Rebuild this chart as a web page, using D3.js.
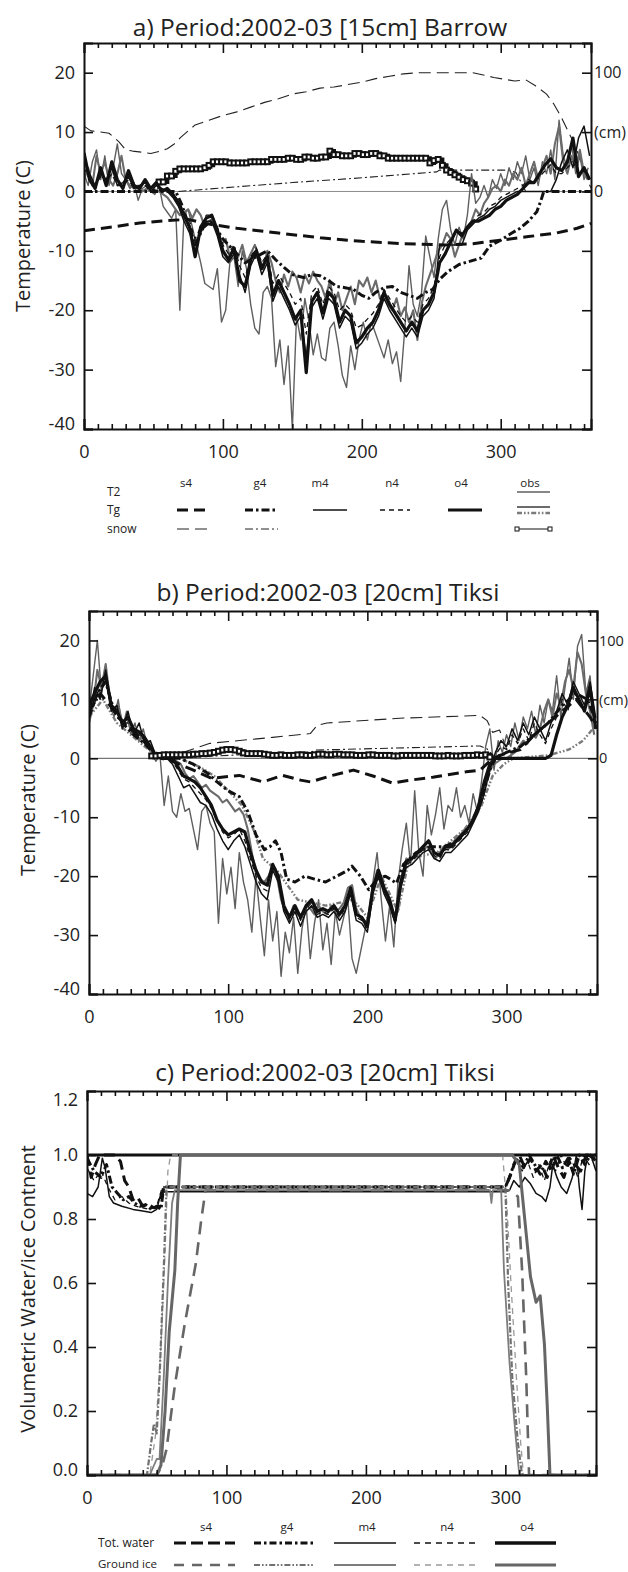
<!DOCTYPE html>
<html>
<head>
<meta charset="utf-8">
<script src="https://cdn.jsdelivr.net/npm/d3@7"></script>
<style>
  body { margin: 0; background: #fff; }
  svg { display: block; }
  text { font-family: "Open Sans", "DejaVu Sans", sans-serif; fill: #222; }
  .axis path { stroke: #111; stroke-width: 2; fill: none; }
  .axis line { stroke: #111; stroke-width: 1.6; }
  .axis text { font-size: 18px; }
  .title { font-size: 24.5px; }
  .ylab { font-size: 20px; }
  .leg { font-size: 11.5px; }
</style>
</head>
<body>
<svg id="chart" width="628" height="1572"></svg>
<script>
// ---------------- tick labels ----------------
const xMajorTicks = [0, 100, 200, 300];
const tempTicks = [-40, -30, -20, -10, 0, 10, 20];
const waterTicks = [0, 0.2, 0.4, 0.6, 0.8, 1.0, 1.2];
const snowTickLabels = { 0: "0", 10: "(cm)", 20: "100" };
const modelNames = ["s4", "g4", "m4", "n4", "o4"];

// ---------------- a) Barrow, 15 cm (°C) ----------------
// observed 2 m air temperature, every 3 days
const barrowT2obs = [
  3, 1, 5, 7, 2, 6, 1, 4, 8, 3,
  2, 0.5, 1.5, -1.5, 0.5, 1, 0, -0.5, 1, -2.5,
  -3.5, -4.5, -3, -20, -4, -3, -6, -9, -12, -15.5,
  -16, -16.5, -13, -22, -20, -12, -11, -16, -10, -13,
  -19, -23, -24, -17, -16, -18, -29.5, -25, -32.5, -26,
  -40, -21, -25, -18, -22, -27.5, -24, -28, -28.5, -23,
  -22, -26, -31, -33, -26, -30, -25, -22, -25, -22,
  -24, -26, -28, -25, -29, -27, -32, -23, -12.5, -19,
  -21, -17, -7.5, -11, -14.5, -8, -3, -1.5, -6.5, -9,
  -6, -8, -4, 3, -2, -1, 1, -1, 2, 0.5,
  3, 1, 4, 2, 5, 3, 6, 2, 4, 1,
  5, 3, 7, 2, 12, 6, 4, 8, 3, 6,
  2, 4
];
// observed ground temperature, every 3 days
const barrowTgObs = [
  2, 4, 1, 6, 3, 5, 2, 1, 3, 6,
  2, 1, 0.5, 1, 0, 0.5, 0, 0.2, 0, -0.5,
  -1, -2, -3, -4, -3.5, -3, -4.5, -3, -4, -6,
  -5, -4.5, -7, -9, -8, -11, -9.5, -11, -9, -12,
  -10.5, -9, -11, -13, -10, -12, -15, -17, -14, -16,
  -13.5, -14.5, -17, -14, -15.5, -13.5, -15, -16, -18, -15,
  -19, -17, -20, -18, -16, -19, -15, -16, -14.5, -17,
  -15, -18, -17, -19, -20, -18, -21, -19.5, -22, -20,
  -25, -19, -16, -14, -12, -10, -9, -7, -8, -11,
  -9, -7, -6, -5, -3, -4, -2, -1, 0.5, 1,
  0, 2, 1, 3, 2, 4, 1, 3, 5, 2,
  4, 6, 3, 8, 11, 5, 3, 6, 4, 7,
  3, 2
];
// modelled ground temperature, every 4 days
const barrowTgO4 = [
  6.5, 2, 0.5, 4, 1, 5, 2, 0.5, 3.5, 1,
  0.5, 2, 0.5, 1.5, 0, 0.5, -0.5, -2, -4, -6,
  -11, -6, -4.5, -4, -6.5, -10, -11.5, -9.5, -15, -16,
  -11.5, -10, -13, -11, -17.5, -15, -17, -19, -21.5, -20,
  -30.5, -18.5, -17, -20.5, -17, -18, -22, -20, -21, -25.5,
  -24.5, -23, -22, -20, -17, -19, -20.5, -22, -23.5, -22,
  -23.5, -20, -19, -17, -12, -10.5, -8.5, -6.5, -7.5, -6,
  -5, -5, -4.5, -4, -3, -2.5, -1.5, -1, -0.5, 0.5,
  1.5, 1.5, 3, 4.5, 5.5, 4, 3.5, 5, 9, 2.5,
  4, 2
];
const barrowTgM4 = [
  5, 3, 1, 3, 2, 4, 1, 1.5, 2.5, 0.5,
  1, 1.5, 0, 1, 0.5, 0, -1, -2.5, -5, -7,
  -9, -7, -5, -5, -7.5, -11, -12, -10.5, -14, -17,
  -12.5, -10.5, -14, -12, -18.5, -16, -18, -20, -22.5, -21,
  -28, -19.5, -18, -21.5, -18, -19, -23, -21, -22, -26.5,
  -25.5, -24, -23, -21, -18, -20, -21.5, -23, -24.5, -23,
  -24.5, -21, -20, -18, -9, -9, -9, -9, -9, -6.5,
  -5.5, -4.5, -4, -3, -2.5, -1.5, -1, -0.5, 0, 0,
  0, 0, 0, 0, 0, 2, 5, 7, 4, 9,
  11, 6
];
const barrowTgN4 = [
  4, 2, 1, 2.5, 1.5, 3, 1, 1, 2, 0.5,
  0.5, 1, 0, 0.5, 0, 0, -0.5, -1.5, -3.5, -5,
  -8, -6, -4, -4, -6, -9, -10.5, -9, -12.5, -14.5,
  -11, -9.5, -12, -10.5, -15.5, -14, -15.5, -17, -19, -18,
  -24, -17, -16, -19, -16, -17, -20, -19, -20, -23,
  -22.5, -21.5, -20.5, -19, -16.5, -18, -19.5, -21, -22, -21,
  -22, -19, -18, -16, -11, -9, -8, -6.5, -7, -6,
  -5, -4, -3.5, -2.5, -2, -1, -0.5, 0, 0.5, 1,
  2, 1.5, 2.5, 3.5, 4.5, 3, 3, 4, 5, 3,
  3.5, 2
];
// smoother model curves: [day, value]
const barrowTgS4 = [[0,-6.6],[20,-6.0],[40,-5.3],[60,-4.9],[75,-4.7],[90,-5.5],[110,-6.2],[140,-7.0],[170,-7.8],[200,-8.4],[230,-8.8],[260,-9.0],[280,-8.8],[300,-8.2],[320,-7.6],[340,-7.0],[355,-6.2],[365,-5.4]];
const barrowTgG4 = [[0,0],[66,0],[70,-2],[76,-6],[80,-9],[86,-6],[92,-5],[100,-8],[108,-10],[116,-12],[124,-11],[132,-10],[138,-11.5],[144,-12.8],[150,-14],[158,-14.5],[164,-14],[170,-14.2],[176,-15],[182,-16],[188,-16.2],[194,-16.5],[200,-17.5],[205,-18],[210,-17],[216,-16.2],[222,-16],[228,-17],[234,-17.5],[240,-18],[246,-17],[251,-16.5],[256,-14.8],[262,-13.5],[270,-12.3],[280,-11.6],[286,-11.2],[292,-9.2],[300,-8.2],[308,-7],[314,-6.2],[320,-5],[326,-3.4],[329,-1.5],[331,0],[365,0]];
// snow depth (cm)
const barrowSnowS4 = [[0,55],[5,51],[12,50],[18,49],[25,42],[30,35],[35,34],[42,33],[48,32],[55,34],[60,36],[65,40],[70,46],[75,51],[80,56],[90,60],[100,64],[110,67],[120,71],[130,75],[140,78],[150,82],[160,84],[170,87],[180,88],[190,90],[200,92],[210,95],[220,97],[230,99],[240,100],[280,100],[295,96],[310,93],[318,94],[325,89],[333,82],[338,74],[343,64],[348,52],[353,40],[358,25],[362,10],[365,3]];
const barrowSnowG4 = [[68,0],[100,3],[150,7.5],[200,11.5],[254,16.5],[256,18],[305,18],[311,16],[318,0]];
const barrowSnowObsStart = 54;   // observed snow depth every 3 days from this day
const barrowSnowObs = [
  8, 8, 13, 13, 17, 19, 19, 19, 19, 19,
  19, 20, 22, 25, 25, 25, 25, 24, 24, 24,
  24, 24, 25, 25, 25, 25, 25, 27, 27, 27,
  27, 28, 28, 27, 27, 29, 29, 28, 28, 29,
  29, 34, 31, 31, 30, 30, 30, 32, 32, 31,
  31, 32, 32, 30, 30, 28, 28, 28, 28, 28,
  28, 28, 28, 28, 28, 24, 26, 27, 22, 18,
  16, 14, 12, 10, 9, 7, 2
];

// ---------------- b) Tiksi, 20 cm (°C) ----------------
const tiksiT2obs = [
  8, 14, 20, 11, 15, 9, 7, 10, 5, 8,
  4, 6, 3, 5, 2, 1, -0.5, 0.5, -8, -3,
  -9, -10, -6, -9, -8.5, -12, -15.5, -9, -8, -11,
  -12.5, -28, -17, -23, -18.5, -25.5, -16, -21, -24, -29.5,
  -20, -27, -33.5, -24, -31, -26, -37, -29.5, -33, -27,
  -36.5, -29, -25, -34, -28, -24, -32.5, -28, -35, -26,
  -30, -27, -24, -34, -36.5, -33, -29.5, -26, -21, -16,
  -24, -31, -25, -32, -21, -15.5, -11, -18, -5.5, -16,
  -20, -8, -13, -9.5, -5, -12, -8, -9, -5, -10,
  -8, -11, -6, -9, -4, 2, 5, -2, 3, 1,
  4, 2, 6, 3, 7, 5, 8, 4, 9, 6,
  10, 8, 14, 7, 12, 17, 10, 19, 21, 11,
  14, 6
];
const tiksiTgObs = [
  6, 9, 15, 12, 16, 10, 8, 9, 6, 7,
  5, 5, 3, 4, 2, 1, 0.5, 0, 0, 0,
  0, -0.5, -1, -2.5, -3.5, -3, -4, -5, -4.5, -5.5,
  -6, -6.5, -7.5, -7, -8, -9, -8.5, -9.5, -12, -16,
  -19.5, -20.5, -21, -20, -18.5, -20, -24, -26, -27, -25,
  -26.5, -27, -25, -25.5, -26.5, -25, -26, -26.5, -25, -26,
  -25.5, -24.5, -22, -21.5, -25.5, -27, -28, -27, -22, -19,
  -20, -23, -25, -27, -26, -20, -17, -17.5, -16.5, -16,
  -15.5, -15, -16, -17, -16, -15, -15.5, -14.5, -13.5, -13,
  -12, -11.5, -10, -8.5, -6.5, -4, -2, -1, -0.5, 0,
  0, 0.5, 1, 2, 3, 2.5, 4, 3.5, 5, 8,
  10, 7, 11, 9, 13, 15, 12, 18, 16, 11,
  8, 4
];
const tiksiTgObs2 = [[0,7],[10,10],[20,6],[30,4],[40,2],[50,0.3],[65,0],[80,-1.5],[90,-3],[100,-5.5],[110,-8],[118,-12],[125,-17],[135,-19],[150,-24],[170,-25],[190,-24],[200,-27],[210,-20],[222,-26],[230,-17],[250,-16],[270,-12],[282,-8],[290,-3],[298,-1],[305,0],[330,0.5],[345,1.5],[355,3],[362,5],[365,6]];
const tiksiTgO4 = [
  9, 11, 13, 14, 9, 8, 6, 7, 5, 4.5,
  3.5, 2, 0.5, 0, 0, 0, -1.5, -3, -3.5, -4,
  -5, -6.5, -8, -10.5, -12, -13, -12.5, -12, -12.5, -16,
  -19, -21, -21.5, -18, -20, -25, -27, -25, -27, -25,
  -24, -26, -25.5, -26, -25, -26.5, -25, -22, -26.5, -27,
  -28.5, -22, -19, -22, -24, -27.5, -21, -17.5, -17, -16,
  -15, -14, -16, -16.5, -15, -15, -14, -13, -12, -10.5,
  -8, -4, -1, 0, 0, 0, 0, 0, 0, 0,
  0, 0, 0, 0.5, 4, 7, 9, 12, 10, 8,
  12, 5
];
const tiksiTgM4 = [
  7, 12, 10, 15, 8, 9, 5, 8, 4, 6,
  2.5, 3, 0.5, 0, 0, -1, -3, -5, -4.5, -6,
  -7.5, -8, -9.5, -12, -14, -15.5, -14, -13, -15, -18,
  -21, -23, -24, -19, -21, -26, -28, -26, -28.5, -26,
  -25, -27, -26.5, -27, -26, -27.5, -26, -23, -27.5, -28,
  -29.5, -23, -20, -23, -25, -28, -22, -18.5, -18, -17,
  -16, -15.5, -17, -17.5, -16, -16, -15, -14, -13, -11,
  -9, -6, -2, 1, 3, 2, 5, 3, 6, 4,
  7, 5, 3, 6, 8, 11, 9, 13, 11, 9,
  13, 7
];
const tiksiTgN4 = [
  8, 10, 12, 13, 9, 7, 6, 6, 4, 4,
  3, 2, 0.5, 0, 0, -0.5, -2, -3.5, -4, -5,
  -6, -7, -8.5, -10.5, -12.5, -13.5, -13, -12, -14, -17,
  -20, -22, -22.5, -18.5, -20.5, -25.5, -27.5, -25.5, -27.5, -25.5,
  -24.5, -26.5, -26, -26.5, -25.5, -27, -25.5, -22.5, -27, -27.5,
  -29, -22.5, -19.5, -22.5, -24.5, -27.5, -21.5, -18, -17.5, -16.5,
  -15.5, -15, -16.5, -17, -15.5, -15.5, -14.5, -13.5, -12.5, -10.5,
  -8.5, -5, -1.5, 0.5, 2, 1.5, 4, 2.5, 5, 3,
  6, 4, 2.5, 5, 7, 10, 8, 12, 10, 8,
  12, 6
];
const tiksiTgS4 = [[0,8],[8,11],[15,9],[25,6],[35,4],[45,1.5],[52,0],[60,-0.5],[75,-2],[88,-3.4],[108,-2.9],[125,-4],[139,-2.9],[152,-3.7],[159,-4],[175,-2.9],[190,-2],[204,-3],[218,-4.2],[228,-3.8],[247,-3.2],[271,-2.3],[281,-2],[288,-0.5],[295,0.5],[310,1.5],[320,4],[330,6],[340,8],[350,10],[360,7],[365,5]];
const tiksiTgG4 = [[0,7],[6,11],[12,13],[18,8],[24,6],[32,4],[40,2.5],[48,0.5],[55,0],[65,0],[75,-1],[85,-2.5],[92,-4],[100,-5.5],[108,-6.5],[114,-9],[120,-13],[126,-15.5],[130,-15],[134,-14],[138,-16],[142,-20.5],[148,-21],[155,-20],[162,-20.5],[170,-21],[178,-20],[186,-19],[189,-18.3],[195,-20],[201,-22.3],[207,-20.5],[213,-20],[221,-21.2],[226,-18],[235,-16],[245,-15],[255,-15],[265,-14],[275,-11],[282,-7],[288,-2],[292,0],[300,1],[310,2],[320,4],[330,6],[340,9],[350,11],[358,10],[365,6]];
const tiksiSnowS4 = [[55,0],[70,6],[87,12.7],[132,17.8],[159,21],[164,28],[171,30],[223,34],[281,36.4],[286,32],[290,22],[295,24],[300,8],[304,0]];
const tiksiSnowG4 = [[60,0],[100,2.5],[160,5.5],[163,7],[281,10.5],[286,8],[292,0]];
const tiksiSnowObsStart = 45;
const tiksiSnowObs = [
  2, 2, 2.5, 3, 3, 3, 3, 3, 3, 3,
  3.5, 3.5, 4, 4, 4.5, 5, 6, 7, 7.5, 7.5,
  7, 6, 4.5, 4, 4, 4, 4, 3.5, 3, 2.5,
  2.5, 3, 2.5, 2.5, 2.5, 3, 3, 2.5, 2.5, 3,
  3.5, 3.5, 3, 3, 3.5, 3.5, 3, 3, 3, 2.5,
  2.5, 2.5, 3, 3, 2.5, 2.5, 2.5, 2.5, 2, 2,
  2.5, 2.5, 2.5, 2.5, 2.5, 2.5, 2.5, 2.5, 2, 2,
  2, 2.5, 2, 2, 2, 2.5, 2.5, 2.5, 3, 2.5,
  3, 1
];

// ---------------- c) Tiksi, 20 cm volumetric content ----------------
const waterS4 = [[0,1.0],[3,0.93],[6,0.97],[9,1.0],[20,1.0],[24,0.98],[27,0.92],[30,0.9],[33,0.86],[36,0.87],[40,0.84],[44,0.845],[48,0.835],[52,0.84],[55,0.9],[300,0.9],[304,0.94],[307,0.98],[310,1.0],[314,0.96],[318,0.99],[322,0.95],[326,0.97],[330,0.93],[334,1.0],[338,0.96],[342,0.93],[346,0.99],[350,0.97],[354,0.95],[358,1.0],[365,1.0]];
const waterG4 = [[0,0.99],[5,0.95],[10,0.93],[14,0.97],[18,0.9],[22,0.88],[26,0.86],[30,0.87],[34,0.85],[38,0.84],[42,0.845],[46,0.83],[50,0.84],[53,0.83],[55,0.9],[300,0.9],[303,0.93],[306,0.97],[309,0.99],[313,0.96],[317,1.0],[321,0.97],[325,0.94],[329,0.98],[333,0.95],[337,1.0],[341,0.96],[345,0.99],[349,0.94],[353,1.0],[357,0.97],[361,1.0],[365,0.98]];
const waterM4 = [[0,0.88],[4,0.87],[8,0.9],[11,0.99],[13,0.96],[16,0.87],[19,0.85],[25,0.84],[33,0.83],[40,0.825],[46,0.82],[50,0.83],[53,0.88],[56,0.885],[300,0.885],[303,0.89],[306,0.92],[310,0.9],[314,0.93],[318,0.91],[322,0.88],[326,0.87],[329,0.855],[332,0.9],[334,0.97],[337,0.93],[340,0.9],[344,0.88],[348,0.93],[351,1.0],[353,0.9],[355,0.83],[357,0.95],[359,1.0],[362,0.99],[365,0.95]];
const waterN4 = [[0,0.96],[5,0.92],[10,0.95],[15,0.9],[20,0.86],[25,0.87],[30,0.85],[35,0.84],[40,0.835],[45,0.83],[50,0.84],[54,0.9],[300,0.9],[304,0.95],[308,0.98],[312,0.95],[316,0.98],[320,0.93],[324,0.97],[328,0.92],[332,0.98],[336,0.95],[340,1.0],[344,0.96],[348,0.98],[352,0.93],[356,1.0],[360,0.97],[365,1.0]];
const waterO4 = [[0,1.0],[365,1.0]];
const iceS4 = [[0,0],[50,0],[54,0.03],[57,0.08],[63,0.28],[70,0.47],[78,0.66],[82,0.8],[85,0.89],[303,0.89],[309,0.87],[312,0.64],[315,0.3],[317,0],[365,0]];
const iceG4 = [[0,0],[43,0],[46,0.1],[48,0.16],[50,0.13],[52,0.3],[55,0.64],[57,0.9],[300,0.9],[302,0.6],[305,0.3],[309,0.1],[312,0],[365,0]];
const iceM4 = [[0,0],[45,0],[50,0.05],[52,0.05],[55,0.3],[58,0.6],[61,0.85],[63,0.89],[289,0.89],[290,0.85],[291,0.89],[297,0.89],[299,0.64],[303,0.35],[307,0.14],[310,0],[365,0]];
const iceN4 = [[0,0],[45,0],[49,0.12],[53,0.4],[56,0.7],[58,0.95],[60,1.0],[298,1.0],[301,0.85],[304,0.6],[308,0.3],[311,0.1],[313,0],[365,0]];
const iceO4 = [[0,0],[50,0],[53,0.03],[56,0.2],[59,0.45],[63,0.64],[65,0.85],[67,1.0],[305,1.0],[310,0.97],[318,0.62],[322,0.54],[325,0.56],[328,0.41],[330,0.22],[332,0],[365,0]];

// ---------------- drawing ----------------
const svg = d3.select("#chart");
const defs = svg.append("defs");

const sty = {
  t2obs:  { stroke: "#5f5f5f", width: 1.4 },
  tgobs:  { stroke: "#6b6b6b", width: 2.1 },
  tgobs2: { stroke: "#7a7a7a", width: 2.4, dash: "5,2,1.6,2,1.6,2" },
  s4:     { stroke: "#111", width: 3, dash: "11,6" },
  g4:     { stroke: "#111", width: 3, dash: "8,3,2.5,3" },
  m4:     { stroke: "#111", width: 1.5 },
  n4:     { stroke: "#111", width: 1.3, dash: "5,4" },
  o4:     { stroke: "#111", width: 3.2 },
  snowS4: { stroke: "#222", width: 1.1, dash: "12,6" },
  snowG4: { stroke: "#222", width: 1.1, dash: "8,3,2,3" },
  snowObs:{ stroke: "#111", width: 1.6 },
  iceS4:  { stroke: "#666", width: 2.6, dash: "13,8" },
  iceG4:  { stroke: "#707070", width: 2.2, dash: "6,2,1.6,2" },
  iceM4:  { stroke: "#7d7d7d", width: 1.8 },
  iceN4:  { stroke: "#999", width: 1.3, dash: "6,5" },
  iceO4:  { stroke: "#666", width: 3 }
};

const xMinorTicks = d3.range(10, 365, 10).filter(d => d % 100 !== 0);
const plainInt = d => String(d);            // ASCII hyphen for negatives
const oneDecimal = d => d.toFixed(1);

function makePanel(id, box, yDomain) {
  const x = d3.scaleLinear().domain([0, 365]).range([box.left, box.right]);
  const y = d3.scaleLinear().domain(yDomain).range([box.bottom, box.top]);
  defs.append("clipPath").attr("id", "clip" + id).append("rect")
    .attr("x", box.left).attr("y", box.top)
    .attr("width", box.right - box.left).attr("height", box.bottom - box.top);
  const g = svg.append("g");
  const plot = g.append("g").attr("clip-path", `url(#clip${id})`);
  return { x, y, g, plot, box };
}

function pairs(values, step, start = 0) {
  return values.map((v, i) => [start + i * step, v]);
}

function drawLine(p, data, st, yScale) {
  const ys = yScale || p.y;
  const line = d3.line().x(d => p.x(d[0])).y(d => ys(d[1]));
  p.plot.append("path").datum(data).attr("d", line)
    .attr("fill", "none").attr("stroke", st.stroke).attr("stroke-width", st.width)
    .attr("stroke-dasharray", st.dash || null)
    .attr("stroke-linejoin", "round");
}

// observed snow depth: stepped line carrying a square marker on every sample
function drawSnowObs(p, data, snowY) {
  const line = d3.line().x(d => p.x(d[0])).y(d => snowY(d[1])).curve(d3.curveStepAfter);
  p.plot.append("path").datum(data).attr("d", line)
    .attr("fill", "none").attr("stroke", "#111").attr("stroke-width", 4);
  p.plot.selectAll(null).data(data).enter().append("rect")
    .attr("x", d => p.x(d[0]) - 2.4).attr("y", d => snowY(d[1]) - 2.4)
    .attr("width", 4.8).attr("height", 4.8)
    .attr("fill", "#fff").attr("stroke", "#111").attr("stroke-width", 2);
}

function drawAxes(p, cfg) {
  const { x, y, g, box } = p;
  const add = (axis, tx, ty) => g.append("g").attr("class", "axis")
    .attr("transform", `translate(${tx},${ty})`).call(axis);
  const minorB = add(d3.axisBottom(x).tickValues(xMinorTicks).tickSize(-5).tickFormat(""), 0, box.bottom);
  const minorT = add(d3.axisTop(x).tickValues(xMinorTicks).tickSize(-5).tickFormat(""), 0, box.top);
  minorB.select(".domain").remove();
  minorT.select(".domain").remove();
  add(d3.axisTop(x).tickValues(xMajorTicks).tickSize(-10).tickFormat(""), 0, box.top);
  add(d3.axisBottom(x).tickValues(xMajorTicks).tickSize(-10).tickPadding(16).tickFormat(plainInt), 0, box.bottom);
  const yl = add(d3.axisLeft(y).tickValues(cfg.yTicks).tickSize(-9).tickPadding(9).tickFormat(cfg.yFormat), box.left, 0);
  const yr = add(d3.axisRight(y).tickValues(cfg.yTicks).tickSize(-9).tickPadding(cfg.rightPad || 3)
    .tickFormat(cfg.rightFormat || (() => "")), box.right, 0);
  yr.selectAll("text").style("font-size", cfg.rightFont || "16px");
  // lowest label sits slightly above its tick, top label (if any) slightly below
  const ext = d3.extent(cfg.yTicks);
  yl.selectAll(".tick text").filter(d => d === ext[0]).attr("dy", "0em");
  if (cfg.labelTop) yl.selectAll(".tick text").filter(d => d === ext[1]).attr("dy", "0.82em");
}

function title(txt, cx, cy) {
  svg.append("text").attr("class", "title").attr("x", cx).attr("y", cy)
    .attr("text-anchor", "middle").text(txt);
}
function yLabel(txt, cx, cy) {
  svg.append("text").attr("class", "ylab")
    .attr("transform", `translate(${cx},${cy}) rotate(-90)`)
    .attr("text-anchor", "middle").attr("dominant-baseline", "central").text(txt);
}
function legLine(g, x0, x1, yy, st) {
  g.append("line").attr("x1", x0).attr("x2", x1).attr("y1", yy).attr("y2", yy)
    .attr("stroke", st.stroke).attr("stroke-width", st.width).attr("stroke-dasharray", st.dash || null);
}

// ---- panel a ----
const pa = makePanel("A", { left: 84, right: 591, top: 43, bottom: 429 }, [-40, 25]);
const snowYa = d3.scaleLinear().domain([0, 100]).range([pa.y(0), pa.y(20)]);
pa.plot.append("line").attr("x1", pa.box.left).attr("x2", pa.box.right)
  .attr("y1", pa.y(0)).attr("y2", pa.y(0)).attr("stroke", "#8a8a8a").attr("stroke-width", 1);
drawLine(pa, barrowSnowS4, sty.snowS4, snowYa);
drawLine(pa, barrowSnowG4, sty.snowG4, snowYa);
drawSnowObs(pa, pairs(barrowSnowObs, 3, barrowSnowObsStart), snowYa);
drawLine(pa, pairs(barrowT2obs, 3), sty.t2obs);
drawLine(pa, pairs(barrowTgObs, 3), sty.tgobs);
drawLine(pa, barrowTgS4, sty.s4);
drawLine(pa, barrowTgG4, sty.g4);
drawLine(pa, pairs(barrowTgN4, 4), sty.n4);
drawLine(pa, pairs(barrowTgM4, 4), sty.m4);
drawLine(pa, pairs(barrowTgO4, 4), sty.o4);
drawAxes(pa, { yTicks: tempTicks, yFormat: plainInt, rightFormat: d => snowTickLabels[d] || "" });
title("a) Period:2002-03 [15cm] Barrow", 320, 36);
yLabel("Temperature (C)", 22, 236);

// ---- legend a ----
const legA = svg.append("g");
const legAHeads = [["s4", 186], ["g4", 260], ["m4", 320], ["n4", 392], ["o4", 461], ["obs", 530]];
legAHeads.forEach(([t, cx]) => legA.append("text").attr("class", "leg").attr("x", cx).attr("y", 487)
  .attr("text-anchor", "middle").text(t));
[["T2", 496], ["Tg", 514], ["snow", 533]].forEach(([t, yy]) =>
  legA.append("text").attr("class", "leg").attr("x", 107).attr("y", yy).style("font-size", "12px").text(t));
const legASpans = { s4: [177, 207], g4: [245, 278], m4: [313, 347], n4: [380, 410], o4: [448, 482], obs: [517, 550] };
legLine(legA, ...legASpans.obs, 492, sty.t2obs);
legLine(legA, ...legASpans.s4, 510, sty.s4);
legLine(legA, ...legASpans.g4, 510, sty.g4);
legLine(legA, ...legASpans.m4, 510, sty.m4);
legLine(legA, ...legASpans.n4, 510, sty.n4);
legLine(legA, ...legASpans.o4, 510, sty.o4);
legLine(legA, ...legASpans.obs, 507, sty.tgobs);
legLine(legA, ...legASpans.obs, 513, sty.tgobs2);
legLine(legA, ...legASpans.s4, 529, sty.snowS4);
legLine(legA, ...legASpans.g4, 529, sty.snowG4);
legLine(legA, ...legASpans.obs, 529, { stroke: "#111", width: 1 });
legASpans.obs.forEach(xx => legA.append("rect").attr("x", xx - 2).attr("y", 527).attr("width", 4).attr("height", 4)
  .attr("fill", "#fff").attr("stroke", "#111").attr("stroke-width", 1));

// ---- panel b ----
const pb = makePanel("B", { left: 89, right: 597, top: 611, bottom: 994 }, [-40, 25]);
const snowYb = d3.scaleLinear().domain([0, 100]).range([pb.y(0), pb.y(20)]);
pb.plot.append("line").attr("x1", pb.box.left).attr("x2", pb.box.right)
  .attr("y1", pb.y(0)).attr("y2", pb.y(0)).attr("stroke", "#555").attr("stroke-width", 1);
drawLine(pb, tiksiSnowS4, sty.snowS4, snowYb);
drawLine(pb, tiksiSnowG4, sty.snowG4, snowYb);
drawLine(pb, pairs(tiksiT2obs, 3), sty.t2obs);
drawLine(pb, pairs(tiksiTgObs, 3), sty.tgobs);
drawLine(pb, tiksiTgObs2, sty.tgobs2);
drawLine(pb, tiksiTgS4, sty.s4);
drawLine(pb, tiksiTgG4, sty.g4);
drawLine(pb, pairs(tiksiTgN4, 4), sty.n4);
drawLine(pb, pairs(tiksiTgM4, 4), sty.m4);
drawLine(pb, pairs(tiksiTgO4, 4), sty.o4);
drawSnowObs(pb, pairs(tiksiSnowObs, 3, tiksiSnowObsStart), snowYb);
drawAxes(pb, { yTicks: tempTicks, yFormat: plainInt, rightFormat: d => snowTickLabels[d] || "",
  rightPad: 2, rightFont: "14.5px" });
title("b) Period:2002-03 [20cm] Tiksi", 328, 601);
yLabel("Temperature (C)", 27, 800);

// ---- panel c ----
const pc = makePanel("C", { left: 87, right: 596, top: 1091, bottom: 1475 }, [0, 1.2]);
drawLine(pc, waterO4, sty.o4);
drawLine(pc, waterS4, sty.s4);
drawLine(pc, waterG4, sty.g4);
drawLine(pc, waterN4, sty.n4);
drawLine(pc, waterM4, sty.m4);
drawLine(pc, iceN4, sty.iceN4);
drawLine(pc, iceG4, sty.iceG4);
drawLine(pc, iceS4, sty.iceS4);
drawLine(pc, iceM4, sty.iceM4);
drawLine(pc, iceO4, sty.iceO4);
drawAxes(pc, { yTicks: waterTicks, yFormat: oneDecimal, labelTop: true });
title("c) Period:2002-03 [20cm] Tiksi", 325, 1081);
yLabel("Volumetric Water/ice Contnent", 27, 1289);

// ---- legend c ----
const legC = svg.append("g");
const legCSpans = [[174, 235], [254, 313], [334, 396], [414, 476], [495, 556]];
const legCHeads = [206, 287, 367, 447, 527];
modelNames.forEach((m, i) => legC.append("text").attr("class", "leg").attr("x", legCHeads[i]).attr("y", 1531)
  .attr("text-anchor", "middle").text(m));
legC.append("text").attr("class", "leg").attr("x", 98).attr("y", 1547).style("font-size", "12px").text("Tot. water");
legC.append("text").attr("class", "leg").attr("x", 98).attr("y", 1568).style("font-size", "11.5px").text("Ground ice");
const waterLeg = [
  { stroke: "#111", width: 3, dash: "12,5" }, { stroke: "#111", width: 3, dash: "7,3,2.5,3" },
  sty.m4, { stroke: "#111", width: 1.3, dash: "6,5" }, { stroke: "#111", width: 3.4 }
];
const iceLeg = [
  { stroke: "#666", width: 2.6, dash: "10,8" }, { stroke: "#707070", width: 2.2, dash: "6,2,1.6,2,1.6,2" },
  sty.iceM4, sty.iceN4, sty.iceO4
];
legCSpans.forEach((s, i) => {
  legLine(legC, s[0], s[1], 1543, waterLeg[i]);
  legLine(legC, s[0], s[1], 1565, iceLeg[i]);
});
</script>
</body>
</html>
